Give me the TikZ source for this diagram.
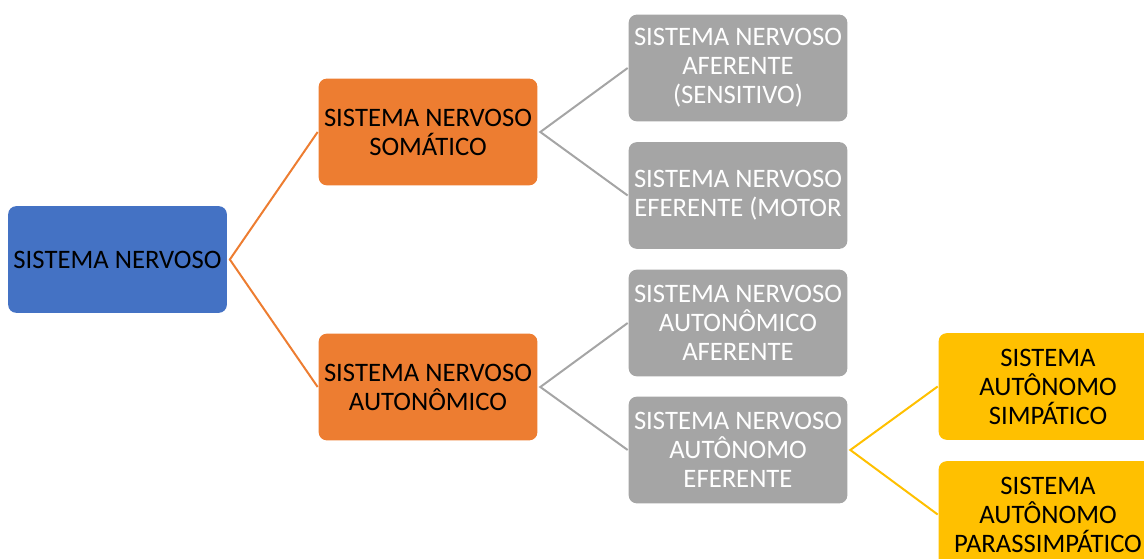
\documentclass[tikz,border=0pt]{standalone}
\usepackage{fontspec}
\setmainfont{Carlito}
\definecolor{nsblue}{RGB}{68,114,196}
\definecolor{nsorange}{RGB}{237,125,49}
\definecolor{nsgray}{RGB}{165,165,165}
\definecolor{nsyellow}{RGB}{255,192,0}
\tikzset{every picture/.style={line width=1.5pt}}
\tikzset{nsbox/.style={rounded corners=6pt, minimum width=164pt, minimum height=80pt, inner sep=1pt, align=center, font=\fontsize{20}{21.75}\selectfont}}

\begin{document}
\begin{tikzpicture}[x=0.75pt,y=0.75pt,yscale=-1,xscale=1]
\useasboundingbox (0,0) rectangle (1144,559);
\clip (0,0) rectangle (1144,559);

% Root
\draw (117.5,259.5) node [nsbox, fill=nsblue, text=black] (nervoso) {SISTEMA NERVOSO};
% Level 1
\draw (428,132) node [nsbox, fill=nsorange, text=black] (somatico) {SISTEMA NERVOSO\\SOMÁTICO};
\draw (428,387) node [nsbox, fill=nsorange, text=black] (autonomico) {SISTEMA NERVOSO\\AUTONÔMICO};
% Level 2
\draw (738,68) node [nsbox, fill=nsgray, text=white] (aferente) {SISTEMA NERVOSO\\AFERENTE\\(SENSITIVO)};
\draw (738,195.5) node [nsbox, fill=nsgray, text=white] (eferente) {SISTEMA NERVOSO\\EFERENTE (MOTOR};
\draw (738,323) node [nsbox, fill=nsgray, text=white] (autaferente) {SISTEMA NERVOSO\\AUTONÔMICO\\AFERENTE};
\draw (738,450) node [nsbox, fill=nsgray, text=white] (autferente) {SISTEMA NERVOSO\\AUTÔNOMO\\EFERENTE};
% Level 3
\draw (1048,386.5) node [nsbox, fill=nsyellow, text=black] (simpatico) {SISTEMA\\AUTÔNOMO\\SIMPÁTICO};
\draw (1048,514.5) node [nsbox, fill=nsyellow, text=black] (parassimpatico) {SISTEMA\\AUTÔNOMO\\PARASSIMPÁTICO};

% Connectors
\draw [color=nsorange] (somatico.west) -- ([xshift=1.5pt]nervoso.east) -- (autonomico.west) ;
\draw [color=nsgray] (aferente.west) -- ([xshift=1.5pt]somatico.east) -- (eferente.west) ;
\draw [color=nsgray] (autaferente.west) -- ([xshift=1.5pt]autonomico.east) -- (autferente.west) ;
\draw [color=nsyellow] (simpatico.west) -- ([xshift=1.5pt]autferente.east) -- (parassimpatico.west) ;

\end{tikzpicture}
\end{document}
